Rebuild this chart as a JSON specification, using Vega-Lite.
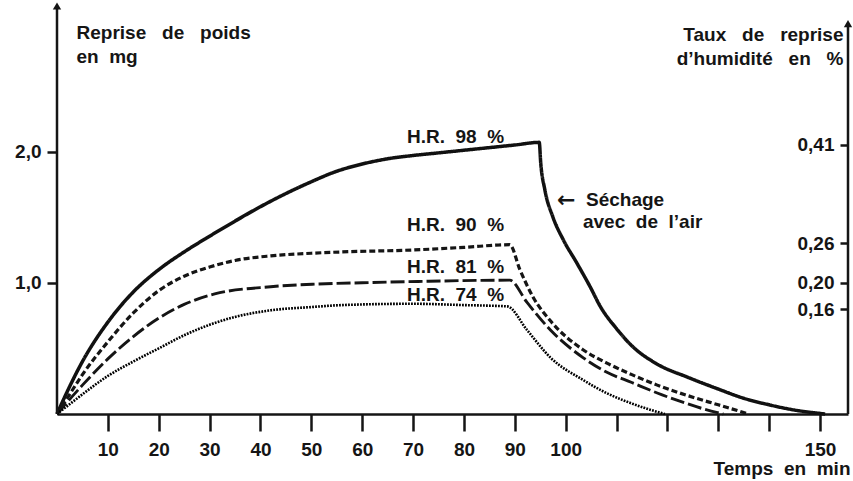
{
  "$schema": "https://vega.github.io/schema/vega-lite/v6.json",
  "autosize": {"type": "none"},
  "width": 791,
  "height": 406,
  "padding": {"left": 57, "top": 8, "right": 5, "bottom": 67},
  "background": "white",
  "config": {
    "view": {"stroke": null},
    "font": "Liberation Sans",
    "axis": {
      "labelFont": "Liberation Sans", "labelFontWeight": "bold", "labelFontSize": 19, "labelColor": "#151515",
      "titleFont": "Liberation Sans", "titleFontWeight": "bold", "titleFontSize": 19, "titleColor": "#151515",
      "tickColor": "#151515", "tickWidth": 2.5, "domainColor": "#151515", "domainWidth": 2.5, "grid": false
    }
  },
  "datasets": {
    "curves": [
      {"series": "98", "t": 0, "mg": 0}, {"series": "98", "t": 2, "mg": 0.17}, {"series": "98", "t": 5, "mg": 0.4}, {"series": "98", "t": 10, "mg": 0.7}, {"series": "98", "t": 15, "mg": 0.93}, {"series": "98", "t": 20, "mg": 1.1}, {"series": "98", "t": 25, "mg": 1.235}, {"series": "98", "t": 30, "mg": 1.355}, {"series": "98", "t": 35, "mg": 1.47}, {"series": "98", "t": 40, "mg": 1.58}, {"series": "98", "t": 45, "mg": 1.68}, {"series": "98", "t": 50, "mg": 1.77}, {"series": "98", "t": 55, "mg": 1.85}, {"series": "98", "t": 60, "mg": 1.905}, {"series": "98", "t": 65, "mg": 1.945}, {"series": "98", "t": 70, "mg": 1.97}, {"series": "98", "t": 75, "mg": 1.99}, {"series": "98", "t": 80, "mg": 2.01}, {"series": "98", "t": 85, "mg": 2.03}, {"series": "98", "t": 90, "mg": 2.05}, {"series": "98", "t": 94.8, "mg": 2.07}, {"series": "98", "t": 95.1, "mg": 1.91}, {"series": "98", "t": 95.9, "mg": 1.71}, {"series": "98", "t": 97.5, "mg": 1.5}, {"series": "98", "t": 99.5, "mg": 1.33}, {"series": "98", "t": 102.2, "mg": 1.15}, {"series": "98", "t": 104.8, "mg": 0.97}, {"series": "98", "t": 106.8, "mg": 0.82}, {"series": "98", "t": 110, "mg": 0.65}, {"series": "98", "t": 113, "mg": 0.52}, {"series": "98", "t": 118, "mg": 0.38}, {"series": "98", "t": 124, "mg": 0.28}, {"series": "98", "t": 130, "mg": 0.19}, {"series": "98", "t": 135, "mg": 0.12}, {"series": "98", "t": 140, "mg": 0.07}, {"series": "98", "t": 145, "mg": 0.03}, {"series": "98", "t": 151, "mg": 0},
      {"series": "90", "t": 0, "mg": 0}, {"series": "90", "t": 2, "mg": 0.12}, {"series": "90", "t": 5, "mg": 0.3}, {"series": "90", "t": 10, "mg": 0.55}, {"series": "90", "t": 15, "mg": 0.77}, {"series": "90", "t": 20, "mg": 0.94}, {"series": "90", "t": 25, "mg": 1.05}, {"series": "90", "t": 30, "mg": 1.12}, {"series": "90", "t": 35, "mg": 1.17}, {"series": "90", "t": 42, "mg": 1.205}, {"series": "90", "t": 50, "mg": 1.225}, {"series": "90", "t": 56, "mg": 1.235}, {"series": "90", "t": 70, "mg": 1.25}, {"series": "90", "t": 80, "mg": 1.27}, {"series": "90", "t": 89, "mg": 1.29}, {"series": "90", "t": 91, "mg": 1.1}, {"series": "90", "t": 93.6, "mg": 0.89}, {"series": "90", "t": 97, "mg": 0.71}, {"series": "90", "t": 103.4, "mg": 0.49}, {"series": "90", "t": 108, "mg": 0.39}, {"series": "90", "t": 113, "mg": 0.3}, {"series": "90", "t": 118, "mg": 0.22}, {"series": "90", "t": 124, "mg": 0.14}, {"series": "90", "t": 130, "mg": 0.07}, {"series": "90", "t": 136, "mg": 0},
      {"series": "81", "t": 0, "mg": 0}, {"series": "81", "t": 2, "mg": 0.09}, {"series": "81", "t": 5, "mg": 0.22}, {"series": "81", "t": 10, "mg": 0.42}, {"series": "81", "t": 15, "mg": 0.59}, {"series": "81", "t": 20, "mg": 0.73}, {"series": "81", "t": 25, "mg": 0.835}, {"series": "81", "t": 31, "mg": 0.915}, {"series": "81", "t": 42, "mg": 0.97}, {"series": "81", "t": 51, "mg": 0.99}, {"series": "81", "t": 60, "mg": 1.0}, {"series": "81", "t": 71, "mg": 1.01}, {"series": "81", "t": 89, "mg": 1.02}, {"series": "81", "t": 92.4, "mg": 0.85}, {"series": "81", "t": 97, "mg": 0.64}, {"series": "81", "t": 103.4, "mg": 0.43}, {"series": "81", "t": 108, "mg": 0.32}, {"series": "81", "t": 113, "mg": 0.24}, {"series": "81", "t": 118, "mg": 0.16}, {"series": "81", "t": 123, "mg": 0.09}, {"series": "81", "t": 127, "mg": 0.04}, {"series": "81", "t": 131, "mg": 0},
      {"series": "74", "t": 0, "mg": 0}, {"series": "74", "t": 2, "mg": 0.06}, {"series": "74", "t": 5, "mg": 0.15}, {"series": "74", "t": 10, "mg": 0.29}, {"series": "74", "t": 15, "mg": 0.4}, {"series": "74", "t": 20, "mg": 0.5}, {"series": "74", "t": 25, "mg": 0.6}, {"series": "74", "t": 30, "mg": 0.68}, {"series": "74", "t": 35, "mg": 0.74}, {"series": "74", "t": 42, "mg": 0.79}, {"series": "74", "t": 50, "mg": 0.815}, {"series": "74", "t": 56, "mg": 0.83}, {"series": "74", "t": 70, "mg": 0.84}, {"series": "74", "t": 80, "mg": 0.83}, {"series": "74", "t": 88.5, "mg": 0.82}, {"series": "74", "t": 92.4, "mg": 0.64}, {"series": "74", "t": 97, "mg": 0.43}, {"series": "74", "t": 103.4, "mg": 0.26}, {"series": "74", "t": 108, "mg": 0.16}, {"series": "74", "t": 113, "mg": 0.08}, {"series": "74", "t": 116, "mg": 0.04}, {"series": "74", "t": 119.5, "mg": 0}
    ],
    "labels": [
      {"t": 68.8, "mg": 2.11, "text": "H.R.\u00a0 98\u00a0 %"},
      {"t": 68.8, "mg": 1.44, "text": "H.R.\u00a0 90\u00a0 %"},
      {"t": 68.8, "mg": 1.12, "text": "H.R.\u00a0 81\u00a0 %"},
      {"t": 68.8, "mg": 0.91, "text": "H.R.\u00a0 74\u00a0 %"},
      {"t": 104.0, "mg": 1.63, "text": "Séchage"},
      {"t": 103.4, "mg": 1.46, "text": "avec\u00a0 de\u00a0 l’air"}
    ],
    "arrow": [
      {"t": 98.3, "mg": 1.63, "text": "\u2190"}
    ],
    "axislines": [
      {"t": 0, "bottom": 0, "top": 3.094},
      {"t": 155.5, "bottom": 0, "top": 2.96}
    ],
    "humidity": [
      {"h": 0.16}, {"h": 0.2}, {"h": 0.26}, {"h": 0.41}
    ]
  },
  "layer": [
    {
      "data": {"name": "curves"},
      "mark": {"type": "line", "interpolate": "monotone", "strokeCap": "butt"},
      "encoding": {
        "x": {
          "field": "t", "type": "quantitative",
          "scale": {"domain": [0, 155.5], "nice": false, "zero": false},
          "axis": {
            "values": [10, 20, 30, 40, 50, 60, 70, 80, 90, 100, 110, 120, 130, 140, 150],
            "labelExpr": "datum.value <= 100 || datum.value == 150 ? datum.label : ''",
            "tickSize": 17, "labelPadding": 9,
            "title": "Temps\u00a0 en\u00a0 min", "titleAnchor": null, "titleAlign": "right", "titleBaseline": "top",
            "titleX": 793, "titleY": 45
          }
        },
        "y": {
          "field": "mg", "type": "quantitative",
          "scale": {"domain": [0, 3.094], "nice": false},
          "axis": {
            "values": [1, 2], "domain": false,
            "labelExpr": "replace(format(datum.value, '.1f'), '.', ',')",
            "tickSize": 10, "labelPadding": 6,
            "title": ["Reprise\u00a0\u00a0 de\u00a0\u00a0 poids", "en\u00a0 mg"], "titleAngle": 0, "titleAlign": "left", "titleBaseline": "top",
            "titleX": 19, "titleY": 15, "titleLineHeight": 24, "titleAnchor": null
          }
        },
        "detail": {"field": "series", "type": "nominal"},
        "strokeDash": {
          "field": "series", "type": "nominal",
          "scale": {"domain": ["98", "90", "81", "74"], "range": [[1, 0], [6, 3], [14, 4], [1.8, 1.2]]},
          "legend": null
        },
        "strokeWidth": {
          "field": "series", "type": "nominal",
          "scale": {"domain": ["98", "90", "81", "74"], "range": [3.5, 2.6, 2.6, 3.8]},
          "legend": null
        },
        "color": {
          "field": "series", "type": "nominal",
          "scale": {"domain": ["98", "90", "81", "74"], "range": ["#111111", "#151515", "#151515", "#000000"]},
          "legend": null
        }
      }
    },
    {
      "data": {"name": "labels"},
      "mark": {"type": "text", "align": "left", "baseline": "middle", "font": "Liberation Sans", "fontWeight": "bold", "fontSize": 19, "color": "#151515"},
      "encoding": {
        "x": {"field": "t", "type": "quantitative"},
        "y": {"field": "mg", "type": "quantitative", "scale": {"domain": [0, 3.094], "nice": false}, "axis": null},
        "text": {"field": "text", "type": "nominal"}
      }
    },
    {
      "data": {"name": "arrow"},
      "mark": {"type": "text", "align": "left", "baseline": "middle", "font": "DejaVu Sans", "fontWeight": "bold", "fontSize": 22, "color": "#151515"},
      "encoding": {
        "x": {"field": "t", "type": "quantitative"},
        "y": {"field": "mg", "type": "quantitative", "scale": {"domain": [0, 3.094], "nice": false}, "axis": null},
        "text": {"field": "text", "type": "nominal"}
      }
    },
    {
      "data": {"name": "axislines"},
      "mark": {"type": "rule", "color": "#151515", "strokeWidth": 2.5},
      "encoding": {
        "x": {"field": "t", "type": "quantitative"},
        "y": {"field": "bottom", "type": "quantitative", "scale": {"domain": [0, 3.094], "nice": false}, "axis": null},
        "y2": {"field": "top"}
      }
    },
    {
      "data": {"name": "axislines"},
      "mark": {"type": "point", "shape": "triangle-up", "filled": true, "size": 70, "color": "#151515", "opacity": 1, "yOffset": -2},
      "encoding": {
        "x": {"field": "t", "type": "quantitative"},
        "y": {"field": "top", "type": "quantitative", "scale": {"domain": [0, 3.094], "nice": false}, "axis": null}
      }
    },
    {
      "data": {"name": "humidity"},
      "mark": {"type": "point", "opacity": 0},
      "encoding": {
        "y": {
          "field": "h", "type": "quantitative",
          "scale": {"domain": [0, 0.6188], "nice": false},
          "axis": {
            "orient": "left", "offset": -791, "domain": false,
            "values": [0.16, 0.2, 0.26, 0.41],
            "labelExpr": "replace(format(datum.value, '.2f'), '.', ',')",
            "tickSize": 8, "labelPadding": 6,
            "title": ["Taux\u00a0\u00a0 de\u00a0\u00a0 reprise", "d’humidité\u00a0\u00a0 en\u00a0\u00a0 %"], "titleAngle": 0, "titleAlign": "right", "titleBaseline": "top",
            "titleX": -5, "titleY": 17, "titleLineHeight": 24, "titleAnchor": null
          }
        }
      }
    }
  ],
  "resolve": {"scale": {"y": "independent"}}
}
